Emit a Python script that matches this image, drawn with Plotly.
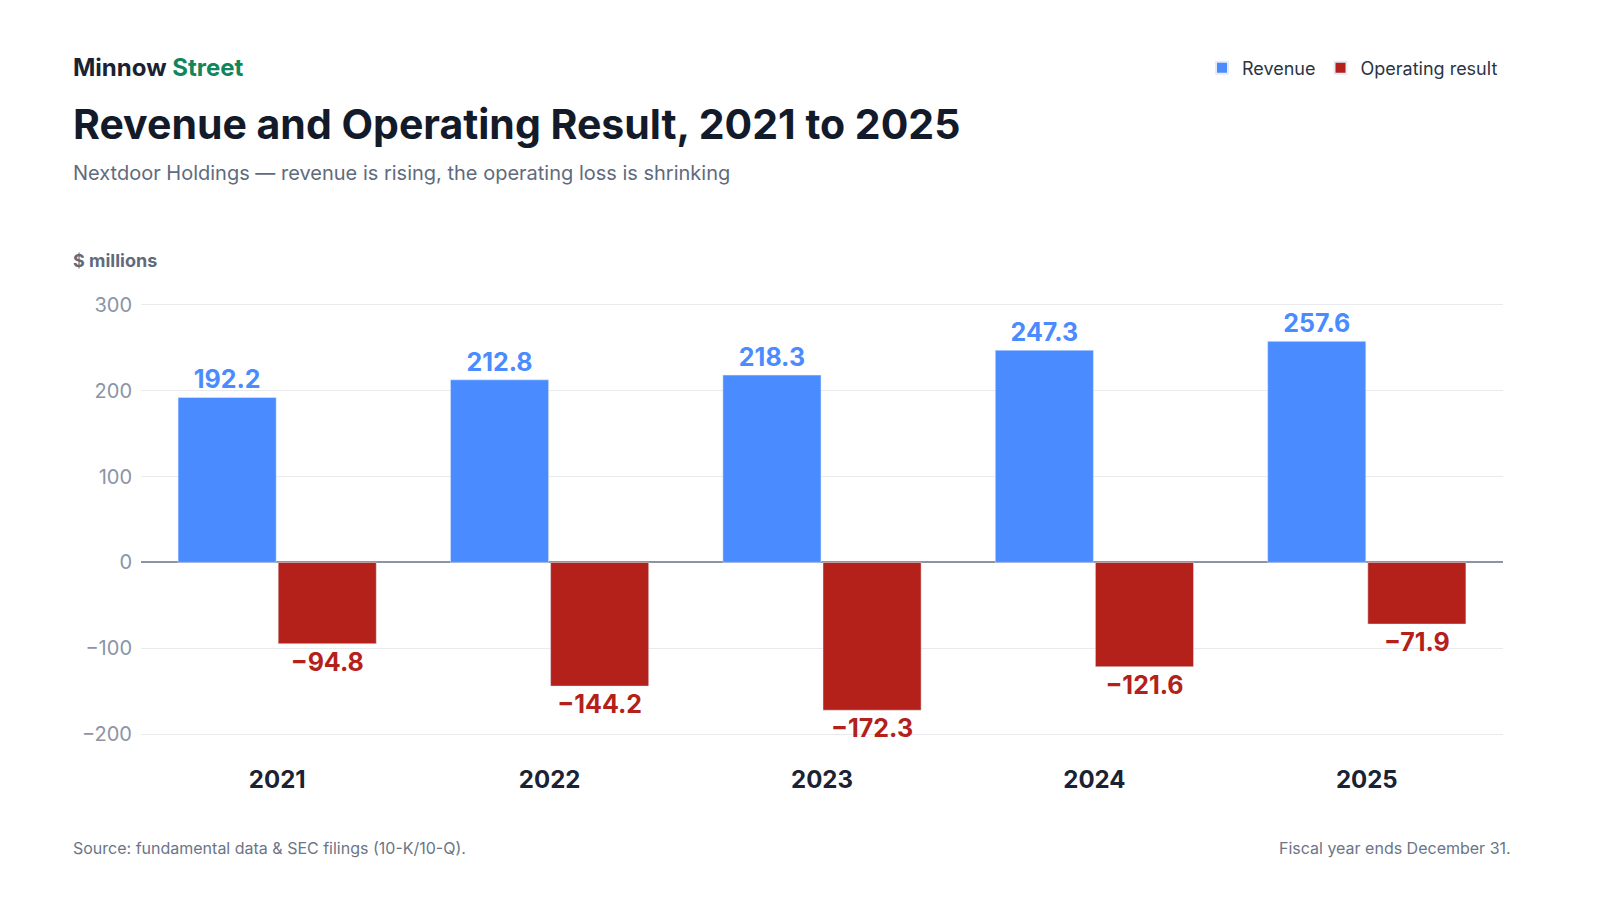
import plotly.graph_objects as go

years = ["2021", "2022", "2023", "2024", "2025"]
revenue = [192.2, 212.8, 218.3, 247.3, 257.6]
op_result = [-94.8, -144.2, -172.3, -121.6, -71.9]

BLUE = "#4a8cff"
RED = "#b3211a"
FONT = "Inter, Noto Sans, sans-serif"


def fmt(v):
    s = f"{abs(v):.1f}"
    return ("\u2212" + s) if v < 0 else s


fig = go.Figure()
fig.add_trace(go.Bar(
    x=years, y=revenue, name="Revenue", marker_color=BLUE,
    text=[fmt(v) for v in revenue], textposition="outside", cliponaxis=False,
    textfont=dict(color=BLUE, size=25, family=FONT, weight="bold"),
))
fig.add_trace(go.Bar(
    x=years, y=op_result, name="Operating result", marker_color=RED,
    text=[fmt(v) for v in op_result], textposition="outside", cliponaxis=False,
    textfont=dict(color=RED, size=25, family=FONT, weight="bold"),
))

fig.update_layout(
    width=1600, height=900,
    paper_bgcolor="white", plot_bgcolor="white",
    margin=dict(l=133, r=105, t=280, b=145),
    barmode="group", bargap=0.265, bargroupgap=0.02,
    font=dict(family=FONT, color="#1a2233"),
    showlegend=True,
    legend=dict(orientation="h", x=1.0, xanchor="right", y=1.56, yanchor="middle",
                font=dict(size=18, color="#2b3445"), itemsizing="constant",
                traceorder="normal"),
    xaxis=dict(showgrid=False, ticks="", tickfont=dict(size=24, color="#1a2233", family=FONT, weight="bold")),
    yaxis=dict(range=[-233.8, 319.8], tickvals=[-200, -100, 0, 100, 200, 300],
               ticktext=["\u2212200", "\u2212100", "0", "100", "200", "300"],
               gridcolor="#e8eaee", gridwidth=1,
               zeroline=True, zerolinecolor="#8a94a6", zerolinewidth=1.5,
               tickfont=dict(size=20, color="#8a94a6"), ticklabelstandoff=8),
    uniformtext=dict(mode=False),
)

annos = [
    dict(x=63, y=60, text="<b>Minnow <span style='color:#13855c'>Street</span></b>", size=24, color="#1a2233"),
    dict(x=63, y=116, text="<b>Revenue and Operating Result, 2021 to 2025</b>", size=41, color="#131a2a"),
    dict(x=63, y=165, text="Nextdoor Holdings \u2014 revenue is rising, the operating loss is shrinking", size=20, color="#5f6b7d"),
    dict(x=63, y=252, text="<b>$ millions</b>", size=18, color="#5f6b7d"),
    dict(x=63, y=840, text="Source: fundamental data &amp; SEC filings (10-K/10-Q).", size=16, color="#6b7587"),
]
for a in annos:
    fig.add_annotation(x=a["x"] / 1600, y=1 - a["y"] / 900, xref="paper", yref="paper",
                       xanchor="left", yanchor="middle", showarrow=False, text=a["text"],
                       font=dict(size=a["size"], color=a["color"], family=FONT))
fig.add_annotation(x=1505 / 1600, y=1 - 840 / 900, xref="paper", yref="paper",
                   xanchor="right", yanchor="middle", showarrow=False,
                   text="Fiscal year ends December 31.",
                   font=dict(size=16, color="#6b7587", family=FONT))

# annotations are positioned in paper coords relative to whole figure: map via domain
for ann in fig.layout.annotations:
    px = ann.x * 1600
    py = (1 - ann.y) * 900
    ann.x = (px - 133) / (1600 - 133 - 105)
    ann.y = 1 - (py - 280) / (900 - 280 - 145)

fig.update_layout(legend=dict(x=1.0, y=1 - (60 - 280) / 475))

fig.write_html("out.html")
